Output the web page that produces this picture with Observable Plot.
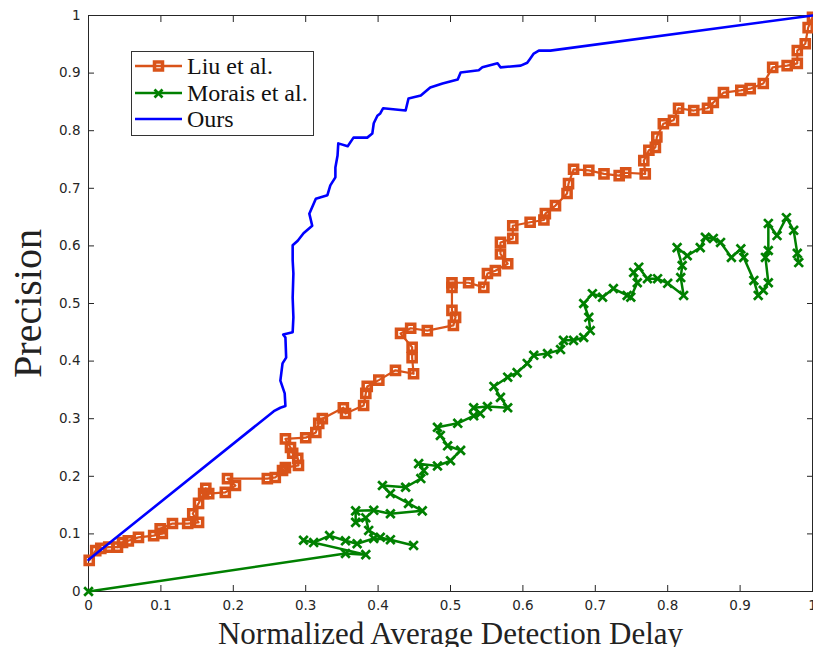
<!DOCTYPE html>
<html><head><meta charset="utf-8">
<script src="https://cdn.jsdelivr.net/npm/d3@7"></script>
<script src="https://cdn.jsdelivr.net/npm/@observablehq/plot@0.6"></script>
<style>
body{margin:0;background:#fff;}
#wrap{position:relative;width:813px;height:647px;overflow:hidden;background:#fff;}
#legend{position:absolute;left:131px;top:51px;width:183px;height:85px;border:1px solid #333;background:#fff;box-sizing:border-box;font-family:"Liberation Serif",serif;font-size:24px;color:#111;}
.row{position:absolute;left:3px;height:26px;display:flex;align-items:center;}
.row span{margin-left:5px;line-height:26px;}
</style></head><body><div id="wrap"><div id="legend"></div></div>
<script>
// Axis ticks
const xTickValues = [0, 0.1, 0.2, 0.3, 0.4, 0.5, 0.6, 0.7, 0.8, 0.9, 1];
const xTickLabels = ["0", "0.1", "0.2", "0.3", "0.4", "0.5", "0.6", "0.7", "0.8", "0.9", "1"];
const yTickValues = [0, 0.1, 0.2, 0.3, 0.4, 0.5, 0.6, 0.7, 0.8, 0.9, 1];
const yTickLabels = ["0", "0.1", "0.2", "0.3", "0.4", "0.5", "0.6", "0.7", "0.8", "0.9", "1"];

const seriesNames = ["Liu et al.", "Morais et al.", "Ours"];
const seriesColors = ["#D95319", "#008000", "#0000FF"];

// Liu et al.
const liuX = [0.001,0.010,0.017,0.028,0.040,0.047,0.055,0.069,0.090,0.102,0.099,0.116,0.137,0.152,0.144,0.152,0.159,0.162,0.166,0.189,0.203,0.192,0.247,0.258,0.268,0.272,0.290,0.289,0.282,0.279,0.272,0.300,0.314,0.318,0.323,0.352,0.355,0.380,0.383,0.385,0.401,0.424,0.449,0.447,0.447,0.431,0.445,0.468,0.504,0.507,0.502,0.502,0.502,0.525,0.546,0.551,0.562,0.579,0.569,0.569,0.586,0.586,0.610,0.629,0.631,0.645,0.661,0.663,0.670,0.691,0.712,0.733,0.742,0.769,0.767,0.774,0.783,0.785,0.794,0.808,0.815,0.836,0.855,0.863,0.877,0.901,0.914,0.932,0.945,0.965,0.979,0.979,0.990,0.994,1.000];
const liuY = [0.054,0.071,0.075,0.077,0.077,0.085,0.088,0.094,0.097,0.101,0.109,0.118,0.118,0.120,0.135,0.153,0.170,0.179,0.170,0.172,0.184,0.196,0.196,0.198,0.210,0.215,0.219,0.231,0.240,0.250,0.265,0.267,0.276,0.292,0.300,0.319,0.309,0.323,0.344,0.356,0.367,0.384,0.378,0.406,0.424,0.448,0.457,0.453,0.462,0.476,0.488,0.528,0.536,0.536,0.528,0.552,0.557,0.569,0.586,0.606,0.613,0.635,0.641,0.645,0.656,0.670,0.691,0.708,0.733,0.731,0.725,0.722,0.727,0.725,0.748,0.766,0.771,0.789,0.812,0.818,0.839,0.835,0.839,0.849,0.866,0.870,0.873,0.882,0.910,0.913,0.917,0.939,0.951,0.979,0.997];

// Morais et al.
const moraisX = [0,0.355,0.383,0.297,0.311,0.333,0.355,0.371,0.394,0.417,0.449,0.403,0.387,0.383,0.369,0.369,0.394,0.417,0.461,0.442,0.417,0.406,0.438,0.459,0.463,0.456,0.482,0.500,0.514,0.496,0.486,0.482,0.510,0.532,0.541,0.532,0.551,0.579,0.569,0.560,0.579,0.592,0.606,0.615,0.634,0.652,0.656,0.670,0.684,0.693,0.691,0.684,0.696,0.710,0.725,0.744,0.749,0.758,0.753,0.760,0.772,0.786,0.800,0.822,0.818,0.820,0.813,0.827,0.845,0.852,0.863,0.873,0.888,0.901,0.905,0.919,0.925,0.932,0.939,0.935,0.939,0.939,0.951,0.964,0.974,0.979,0.981];
const moraisY = [0,0.066,0.064,0.089,0.085,0.097,0.088,0.083,0.092,0.090,0.080,0.094,0.106,0.128,0.120,0.140,0.141,0.135,0.140,0.153,0.170,0.184,0.181,0.196,0.210,0.222,0.218,0.227,0.245,0.253,0.271,0.285,0.292,0.305,0.309,0.319,0.321,0.319,0.337,0.356,0.372,0.380,0.396,0.410,0.413,0.420,0.436,0.436,0.441,0.453,0.476,0.500,0.517,0.511,0.526,0.514,0.511,0.536,0.554,0.563,0.543,0.543,0.535,0.514,0.545,0.566,0.597,0.583,0.597,0.615,0.613,0.606,0.580,0.595,0.580,0.540,0.514,0.523,0.536,0.580,0.592,0.639,0.618,0.649,0.627,0.587,0.571];

// Ours
const oursX = [0,0.256,0.265,0.272,0.271,0.265,0.268,0.273,0.272,0.269,0.282,0.283,0.282,0.283,0.282,0.282,0.289,0.297,0.309,0.305,0.314,0.330,0.334,0.341,0.341,0.344,0.345,0.358,0.366,0.385,0.392,0.394,0.399,0.403,0.407,0.438,0.442,0.459,0.472,0.489,0.510,0.514,0.539,0.544,0.565,0.569,0.597,0.606,0.610,0.615,0.622,0.638,1.0];
const oursY = [0.055,0.313,0.319,0.322,0.344,0.366,0.396,0.406,0.441,0.446,0.450,0.476,0.510,0.552,0.575,0.601,0.609,0.622,0.635,0.656,0.682,0.688,0.705,0.719,0.736,0.757,0.778,0.773,0.788,0.788,0.795,0.813,0.826,0.830,0.839,0.835,0.856,0.861,0.875,0.882,0.889,0.901,0.905,0.910,0.917,0.910,0.913,0.918,0.925,0.934,0.939,0.939,1.0];

const rows = (xs, ys) => xs.map((x, i) => ({x, y: ys[i]}));
const liu = rows(liuX, liuY), morais = rows(moraisX, moraisY), ours = rows(oursX, oursY);

const axisColor = "#262626";
const serif = "'Liberation Serif', 'Times New Roman', serif";
const fmtX = (d) => xTickLabels[xTickValues.indexOf(d)];
const fmtY = (d) => yTickLabels[yTickValues.indexOf(d)];
const blank = () => "";

const chart = Plot.plot({
  width: 813, height: 647,
  marginLeft: 88, marginRight: 1, marginTop: 15, marginBottom: 56,
  x: {domain: [0, 1], label: null},
  y: {domain: [0, 1], label: null},
  style: {fontFamily: "'DejaVu Sans', sans-serif", fontSize: "13px", color: axisColor, background: "#fff", overflow: "visible"},
  marks: [
    Plot.frame({stroke: axisColor, strokeWidth: 1}),
    Plot.axisX(xTickValues, {anchor: "bottom", tickSize: -6, tickPadding: 15, tickFormat: fmtX, fontSize: 13.5, label: null}),
    Plot.axisX(xTickValues, {anchor: "top", tickSize: -6, tickFormat: blank, label: null}),
    Plot.axisY(yTickValues, {anchor: "left", tickSize: -6, tickPadding: 14, tickFormat: fmtY, fontSize: 13.5, label: null}),
    Plot.axisY(yTickValues, {anchor: "right", tickSize: -6, tickFormat: blank, label: null}),
    Plot.line(liu, {x: "x", y: "y", stroke: seriesColors[0], strokeWidth: 2.2}),
    Plot.dot(liu, {x: "x", y: "y", symbol: "square", r: 4.6, stroke: seriesColors[0], strokeWidth: 3.5, fill: "none"}),
    Plot.line(morais, {x: "x", y: "y", stroke: seriesColors[1], strokeWidth: 2.5}),
    Plot.dot(morais, {x: "x", y: "y", symbol: "times", r: 4, stroke: seriesColors[1], strokeWidth: 2.7}),
    Plot.line(ours, {x: "x", y: "y", stroke: seriesColors[2], strokeWidth: 2.6}),
    Plot.text(["Normalized Average Detection Delay"], {frameAnchor: "bottom", lineAnchor: "bottom", textAnchor: "middle", dy: 52, fontSize: 31, fontFamily: serif, fill: "#222"}),
    Plot.text(["Precision"], {frameAnchor: "left", textAnchor: "middle", lineAnchor: "middle", rotate: -90, dx: -60, fontSize: 40, fontFamily: serif, fill: "#222"})
  ]
});
document.getElementById("wrap").prepend(chart);

// Legend
const legend = document.getElementById("legend");
const markerSvg = [
  (c) => `<rect x="19.5" y="9" width="8" height="8" fill="none" stroke="${c}" stroke-width="3.5"/>`,
  (c) => `<path d="M19.5,9.5L27.5,17.5M27.5,9.5L19.5,17.5" stroke="${c}" stroke-width="2.7"/>`,
  (c) => ``
];
seriesNames.forEach((name, i) => {
  const row = document.createElement("div");
  row.className = "row";
  row.style.top = (1 + i * 26.5) + "px";
  row.innerHTML = `<svg width="47" height="26"><line x1="0" x2="47" y1="13" y2="13" stroke="${seriesColors[i]}" stroke-width="2.6"/>${markerSvg[i](seriesColors[i])}</svg><span>${name}</span>`;
  legend.appendChild(row);
});
</script>
</body></html>
